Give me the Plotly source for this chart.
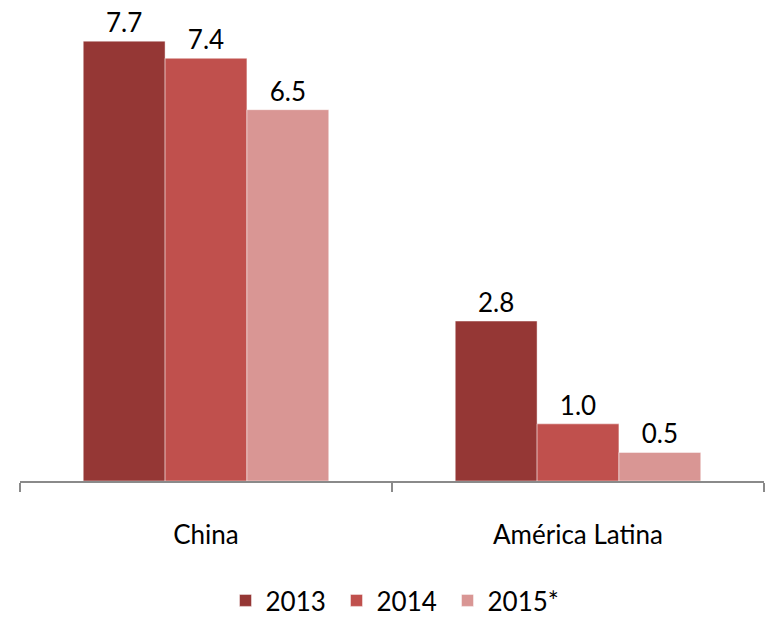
import plotly.graph_objects as go

regions = ["China", "América Latina"]
years = ["2013", "2014", "2015*"]
growth = {
    "2013": [7.7, 2.8],
    "2014": [7.4, 1.0],
    "2015*": [6.5, 0.5],
}
colors = {"2013": "#953735", "2014": "#C0504D", "2015*": "#D99694"}

FONT = dict(family="Lato, Open Sans, sans-serif", size=26, color="#000000")

fig = go.Figure()
for y in years:
    fig.add_trace(go.Bar(
        name=y,
        x=regions,
        y=growth[y],
        marker=dict(color=colors[y], line=dict(color="rgba(255,255,255,0.45)", width=1)),
        text=[f"{v:.1f}" for v in growth[y]],
        textposition="outside",
        textfont=FONT,
        cliponaxis=False,
    ))

fig.update_layout(
    width=768, height=624,
    margin=dict(l=20, r=4, t=0, b=143, autoexpand=False),
    paper_bgcolor="white", plot_bgcolor="white",
    barmode="group",
    bargap=0.34, bargroupgap=0,
    font=FONT,
    showlegend=True,
    legend=dict(
        orientation="h", x=0.5, xanchor="center",
        yref="container", y=0.0, yanchor="bottom",
        font=FONT, entrywidth=66, traceorder="normal",
    ),
)
fig.update_xaxes(
    type="category",
    automargin=False,
    showline=True, linecolor="#8a8a8a", linewidth=1.5,
    ticks="outside", ticklen=9, tickcolor="#8a8a8a", tickwidth=1.5,
    tickson="boundaries",
    ticklabelstandoff=30,
    tickfont=FONT,
    showgrid=False, zeroline=False,
)
fig.update_yaxes(
    range=[0, 8.42], visible=False, showgrid=False, zeroline=False,
)

fig.write_html("out.html")
